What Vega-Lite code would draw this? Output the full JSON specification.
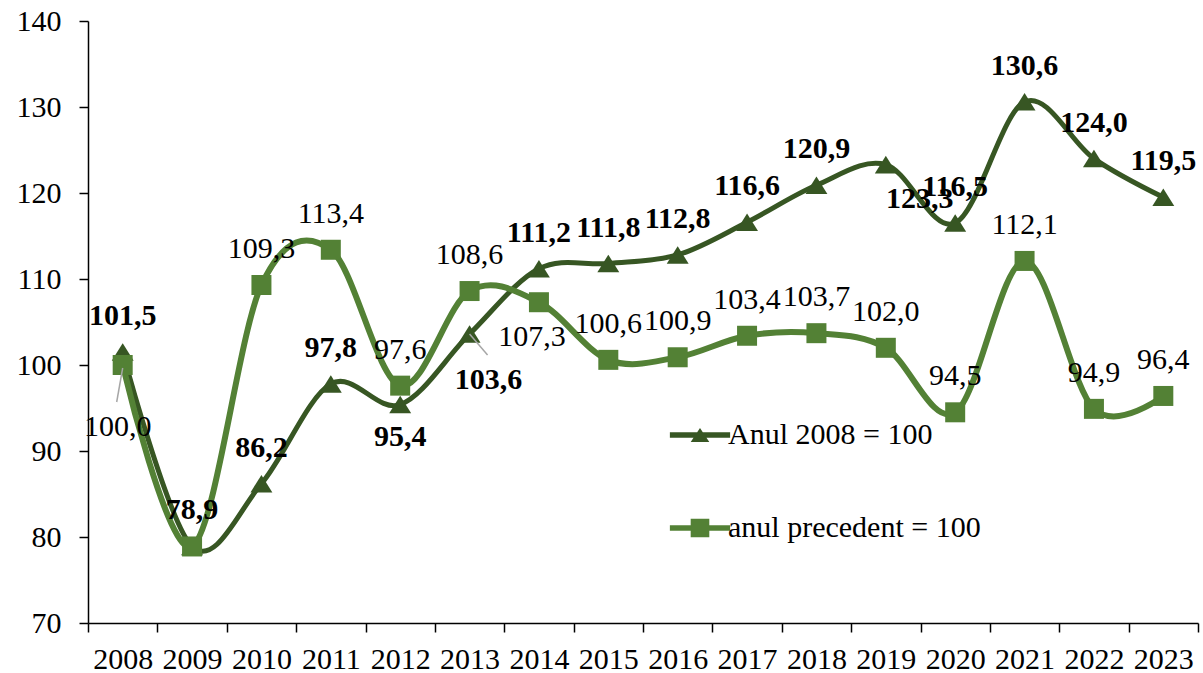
{
  "$schema": "https://vega.github.io/schema/vega-lite/v6.json",
  "width": 1110,
  "height": 602,
  "autosize": "none",
  "padding": {"left": 88, "top": 21, "right": 5, "bottom": 50},
  "background": "white",
  "config": {
    "locale": {"number": {"decimal": ",", "thousands": ".", "grouping": [3], "currency": ["", ""]}},
    "view": {"stroke": null},
    "font": "Liberation Serif",
    "text": {"font": "Liberation Serif", "fontSize": 30, "color": "black"}
  },
  "data": {
    "values": [
      {"year": "2008", "series": "Anul 2008 = 100", "value": 101.5},
      {"year": "2009", "series": "Anul 2008 = 100", "value": 78.9},
      {"year": "2010", "series": "Anul 2008 = 100", "value": 86.2},
      {"year": "2011", "series": "Anul 2008 = 100", "value": 97.8},
      {"year": "2012", "series": "Anul 2008 = 100", "value": 95.4},
      {"year": "2013", "series": "Anul 2008 = 100", "value": 103.6},
      {"year": "2014", "series": "Anul 2008 = 100", "value": 111.2},
      {"year": "2015", "series": "Anul 2008 = 100", "value": 111.8},
      {"year": "2016", "series": "Anul 2008 = 100", "value": 112.8},
      {"year": "2017", "series": "Anul 2008 = 100", "value": 116.6},
      {"year": "2018", "series": "Anul 2008 = 100", "value": 120.9},
      {"year": "2019", "series": "Anul 2008 = 100", "value": 123.3},
      {"year": "2020", "series": "Anul 2008 = 100", "value": 116.5},
      {"year": "2021", "series": "Anul 2008 = 100", "value": 130.6},
      {"year": "2022", "series": "Anul 2008 = 100", "value": 124.0},
      {"year": "2023", "series": "Anul 2008 = 100", "value": 119.5},
      {"year": "2008", "series": "anul precedent = 100", "value": 100.0},
      {"year": "2009", "series": "anul precedent = 100", "value": 78.9},
      {"year": "2010", "series": "anul precedent = 100", "value": 109.3},
      {"year": "2011", "series": "anul precedent = 100", "value": 113.4},
      {"year": "2012", "series": "anul precedent = 100", "value": 97.6},
      {"year": "2013", "series": "anul precedent = 100", "value": 108.6},
      {"year": "2014", "series": "anul precedent = 100", "value": 107.3},
      {"year": "2015", "series": "anul precedent = 100", "value": 100.6},
      {"year": "2016", "series": "anul precedent = 100", "value": 100.9},
      {"year": "2017", "series": "anul precedent = 100", "value": 103.4},
      {"year": "2018", "series": "anul precedent = 100", "value": 103.7},
      {"year": "2019", "series": "anul precedent = 100", "value": 102.0},
      {"year": "2020", "series": "anul precedent = 100", "value": 94.5},
      {"year": "2021", "series": "anul precedent = 100", "value": 112.1},
      {"year": "2022", "series": "anul precedent = 100", "value": 94.9},
      {"year": "2023", "series": "anul precedent = 100", "value": 96.4}
    ]
  },
  "encoding": {
    "x": {
      "field": "year", "type": "ordinal", "bandPosition": 0.5,
      "scale": {"type": "band", "paddingInner": 0, "paddingOuter": 0},
      "axis": {
        "title": null, "labelAngle": 0, "tickBand": "extent",
        "domainColor": "black", "domainWidth": 1.5, "tickColor": "black", "tickWidth": 1.5, "tickSize": 9,
        "labelFont": "Liberation Serif", "labelFontSize": 30, "labelColor": "black", "labelPadding": 12, "grid": false
      }
    },
    "y": {
      "field": "value", "type": "quantitative",
      "scale": {"domain": [70, 140], "nice": false, "zero": false},
      "axis": {
        "title": null, "values": [70, 80, 90, 100, 110, 120, 130, 140],
        "domainColor": "black", "domainWidth": 1.5, "tickColor": "black", "tickWidth": 1.5, "tickSize": 9,
        "labelFont": "Liberation Serif", "labelFontSize": 30, "labelColor": "black", "labelPadding": 18, "grid": false
      }
    }
  },
  "layer": [
    {
      "mark": {"type": "point", "filled": true, "opacity": 1, "size": 480, "clip": true},
      "encoding": {
        "y": {"datum": 0},
        "color": {
          "field": "series", "type": "nominal",
          "scale": {"domain": ["Anul 2008 = 100", "anul precedent = 100"], "range": ["#375623", "#538135"]},
          "legend": {
            "orient": "none", "legendX": 597, "legendY": 399, "title": null, "padding": 0,
            "labelFont": "Liberation Serif", "labelFontSize": 30, "labelColor": "black", "labelLimit": 400,
            "symbolSize": 480, "symbolOpacity": 1, "symbolStrokeWidth": 0, "rowPadding": 63, "labelOffset": 13
          }
        },
        "shape": {
          "field": "series", "type": "nominal",
          "scale": {
            "domain": ["Anul 2008 = 100", "anul precedent = 100"],
            "range": [
              "M-2.75,-0.25L2.75,-0.25L2.75,0.25L-2.75,0.25Z M-0.85,0.65L0,-0.65L0.85,0.65Z",
              "M-2.75,-0.25L2.75,-0.25L2.75,0.25L-2.75,0.25Z M-0.85,-0.85L0.85,-0.85L0.85,0.85L-0.85,0.85Z"
            ]
          }
        }
      }
    },
    {
      "transform": [{"filter": {"field": "series", "equal": "Anul 2008 = 100"}}],
      "mark": {"type": "line", "interpolate": "cardinal", "color": "#375623", "strokeWidth": 5}
    },
    {
      "transform": [{"filter": {"field": "series", "equal": "Anul 2008 = 100"}}],
      "mark": {"type": "point", "shape": "M-1,0.8L0,-0.8L1,0.8Z", "size": 480, "filled": true, "opacity": 1, "color": "#375623"}
    },
    {
      "transform": [{"filter": {"field": "series", "equal": "anul precedent = 100"}}],
      "mark": {"type": "line", "interpolate": "cardinal", "color": "#538135", "strokeWidth": 6}
    },
    {
      "transform": [{"filter": {"field": "series", "equal": "anul precedent = 100"}}],
      "mark": {"type": "point", "shape": "square", "size": 400, "filled": true, "opacity": 1, "color": "#538135"}
    },
    {
      "transform": [{"filter": {"and": [{"field": "series", "equal": "anul precedent = 100"}, {"field": "year", "equal": "2008"}]}}],
      "mark": {"type": "rule", "color": "#a6a6a6", "strokeWidth": 1.5, "yOffset": 3, "x2Offset": -6, "y2Offset": 37},
      "encoding": {"x2": {"field": "year"}, "y2": {"field": "value"}}
    },
    {
      "transform": [{"filter": {"and": [{"field": "series", "equal": "Anul 2008 = 100"}, {"field": "year", "equal": "2013"}]}}],
      "mark": {"type": "rule", "color": "#a6a6a6", "strokeWidth": 1.5, "x2Offset": 18, "y2Offset": 21},
      "encoding": {"x2": {"field": "year"}, "y2": {"field": "value"}}
    },
    {
      "transform": [{"filter": {"and": [{"field": "series", "equal": "Anul 2008 = 100"}, {"not": {"field": "year", "oneOf": ["2012", "2013", "2019"]}}]}}],
      "mark": {"type": "text", "fontWeight": "bold", "dy": -36},
      "encoding": {"text": {"field": "value", "type": "quantitative", "format": ".1f"}}
    },
    {
      "transform": [{"filter": {"and": [{"field": "series", "equal": "Anul 2008 = 100"}, {"field": "year", "equal": "2012"}]}}],
      "mark": {"type": "text", "fontWeight": "bold", "dy": 32},
      "encoding": {"text": {"field": "value", "type": "quantitative", "format": ".1f"}}
    },
    {
      "transform": [{"filter": {"and": [{"field": "series", "equal": "Anul 2008 = 100"}, {"field": "year", "equal": "2013"}]}}],
      "mark": {"type": "text", "fontWeight": "bold", "dx": 19, "dy": 46},
      "encoding": {"text": {"field": "value", "type": "quantitative", "format": ".1f"}}
    },
    {
      "transform": [{"filter": {"and": [{"field": "series", "equal": "Anul 2008 = 100"}, {"field": "year", "equal": "2019"}]}}],
      "mark": {"type": "text", "fontWeight": "bold", "dx": 34, "dy": 34},
      "encoding": {"text": {"field": "value", "type": "quantitative", "format": ".1f"}}
    },
    {
      "transform": [{"filter": {"and": [{"field": "series", "equal": "anul precedent = 100"}, {"not": {"field": "year", "oneOf": ["2008", "2009", "2014"]}}]}}],
      "mark": {"type": "text", "dy": -36},
      "encoding": {"text": {"field": "value", "type": "quantitative", "format": ".1f"}}
    },
    {
      "transform": [{"filter": {"and": [{"field": "series", "equal": "anul precedent = 100"}, {"field": "year", "equal": "2008"}]}}],
      "mark": {"type": "text", "dx": -5, "dy": 62},
      "encoding": {"text": {"field": "value", "type": "quantitative", "format": ".1f"}}
    },
    {
      "transform": [{"filter": {"and": [{"field": "series", "equal": "anul precedent = 100"}, {"field": "year", "equal": "2014"}]}}],
      "mark": {"type": "text", "dx": -7, "dy": 35},
      "encoding": {"text": {"field": "value", "type": "quantitative", "format": ".1f"}}
    }
  ]
}
